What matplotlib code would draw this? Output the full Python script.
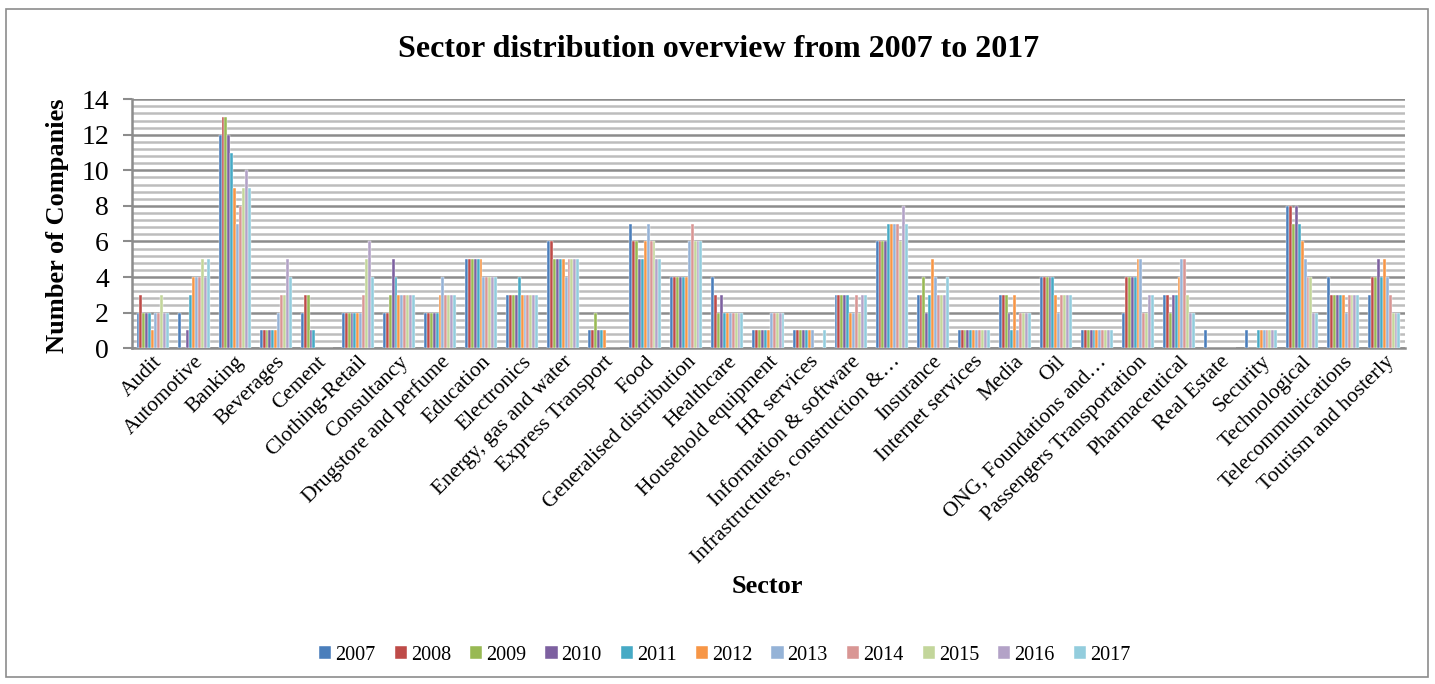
import matplotlib.pyplot as plt
import numpy as np
from matplotlib.patches import Rectangle
from matplotlib.ticker import MultipleLocator

plt.rcParams['font.family'] = ['Liberation Serif', 'DejaVu Serif']

sectors = ['Audit', 'Automotive', 'Banking', 'Beverages', 'Cement', 'Clothing-Retail',
           'Consultancy', 'Drugstore and perfume', 'Education', 'Electronics',
           'Energy, gas and water', 'Express Transport', 'Food', 'Generalised distribution',
           'Healthcare', 'Household equipment', 'HR services', 'Information & software',
           'Infrastructures, construction &\u2026', 'Insurance', 'Internet services', 'Media',
           'Oil', 'ONG, Foundations and\u2026', 'Passengers Transportation', 'Pharmaceutical',
           'Real Estate', 'Security', 'Technological', 'Telecommunications',
           'Tourism and hosterly']

years = ['2007', '2008', '2009', '2010', '2011', '2012', '2013', '2014', '2015', '2016', '2017']

# one row per sector, one column per year
counts = [
    [2, 3, 2, 2, 2, 1, 2, 2, 3, 2, 2],     # Audit
    [2, 0, 0, 1, 3, 4, 4, 4, 5, 4, 5],     # Automotive
    [12, 13, 13, 12, 11, 9, 7, 8, 9, 10, 9],  # Banking
    [1, 1, 1, 1, 1, 1, 2, 3, 3, 5, 4],     # Beverages
    [2, 3, 3, 1, 1, 0, 0, 0, 0, 0, 0],     # Cement
    [2, 2, 2, 2, 2, 2, 2, 3, 5, 6, 4],     # Clothing-Retail
    [2, 2, 3, 5, 4, 3, 3, 3, 3, 3, 3],     # Consultancy
    [2, 2, 2, 2, 2, 3, 4, 3, 3, 3, 3],     # Drugstore and perfume
    [5, 5, 5, 5, 5, 5, 4, 4, 4, 4, 4],     # Education
    [3, 3, 3, 3, 4, 3, 3, 3, 3, 3, 3],     # Electronics
    [6, 6, 5, 5, 5, 5, 4, 5, 5, 5, 5],     # Energy, gas and water
    [1, 1, 2, 1, 1, 1, 0, 0, 0, 0, 0],     # Express Transport
    [7, 6, 6, 5, 5, 6, 7, 6, 6, 5, 5],     # Food
    [4, 4, 4, 4, 4, 4, 6, 7, 6, 6, 6],     # Generalised distribution
    [4, 3, 2, 3, 2, 2, 2, 2, 2, 2, 2],     # Healthcare
    [1, 1, 1, 1, 1, 1, 2, 2, 2, 2, 2],     # Household equipment
    [1, 1, 1, 1, 1, 1, 1, 0, 0, 0, 1],     # HR services
    [3, 3, 3, 3, 3, 2, 2, 3, 2, 3, 3],     # Information & software
    [6, 6, 6, 6, 7, 7, 7, 7, 6, 8, 7],     # Infrastructures
    [3, 3, 4, 2, 3, 5, 4, 3, 3, 3, 4],     # Insurance
    [1, 1, 1, 1, 1, 1, 1, 1, 1, 1, 1],     # Internet services
    [3, 3, 3, 2, 1, 3, 1, 2, 2, 2, 2],     # Media
    [4, 4, 4, 4, 4, 3, 2, 3, 3, 3, 3],     # Oil
    [1, 1, 1, 1, 1, 1, 1, 1, 1, 1, 1],     # ONG
    [2, 4, 4, 4, 4, 5, 5, 2, 2, 3, 3],     # Passengers Transportation
    [3, 3, 2, 3, 3, 4, 5, 5, 3, 2, 2],     # Pharmaceutical
    [1, 0, 0, 0, 0, 0, 0, 0, 0, 0, 0],     # Real Estate
    [1, 0, 0, 0, 1, 1, 1, 1, 1, 1, 1],     # Security
    [8, 8, 7, 8, 7, 6, 5, 4, 4, 2, 2],     # Technological
    [4, 3, 3, 3, 3, 3, 2, 3, 3, 3, 3],     # Telecommunications
    [3, 4, 4, 5, 4, 5, 4, 3, 2, 2, 2],     # Tourism and hosterly
]

colors = ['#4A7EBB', '#BE4B48', '#98B954', '#7D60A0', '#46AAC5', '#F79646',
          '#95B3D7', '#D99694', '#C3D69B', '#B3A2C7', '#93CDDD']

data = np.array(counts)
x = np.arange(len(sectors))
group_w = 0.78
bw = group_w / len(years)

fig = plt.figure(figsize=(14.35, 6.84), dpi=100)
ax = fig.add_axes([0.092, 0.491, 0.887, 0.364])

for i, yr in enumerate(years):
    ax.bar(x - group_w / 2 + bw * (i + 0.5), data[:, i], width=bw,
           color=colors[i], edgecolor='white', linewidth=0.3, label=yr, zorder=3)

ax.set_xlim(-0.5, len(sectors) - 0.5)
ax.set_ylim(0, 14)
ax.yaxis.set_major_locator(MultipleLocator(2))
ax.yaxis.set_minor_locator(MultipleLocator(0.4))
ax.grid(axis='y', which='major', color='#8C8C8C', linewidth=1.8, zorder=0)
ax.grid(axis='y', which='minor', color='#BDBDBD', linewidth=1.8, zorder=0)
ax.tick_params(axis='y', which='minor', length=0)
ax.tick_params(axis='y', which='major', labelsize=20, length=6.5, width=1.5,
               color='#8C8C8C', pad=10)
ax.tick_params(axis='x', length=0, pad=3)
ax.set_xticks(x)
ax.set_xticklabels(sectors, rotation=45, ha='right', rotation_mode='anchor', fontsize=15.5)

for side in ['top', 'right']:
    ax.spines[side].set_visible(False)
ax.spines['left'].set_color('#8C8C8C')
ax.spines['left'].set_linewidth(1.8)
ax.spines['bottom'].set_color('#8C8C8C')
ax.spines['bottom'].set_linewidth(1.8)

fig.text(0.040, 0.670, 'Number of Companies', rotation=90, ha='center', va='center',
         fontsize=19, fontweight='bold')
fig.text(0.501, 0.928, 'Sector distribution overview from 2007 to 2017',
         ha='center', va='center', fontsize=23, fontweight='bold')
fig.text(0.5345, 0.142, 'Sector', ha='center', va='center', fontsize=19, fontweight='bold')

fig.legend(loc='center', bbox_to_anchor=(0.505, 0.042), ncol=11, frameon=False,
           fontsize=14.5, handlelength=0.6, handleheight=0.6, handletextpad=0.2,
           columnspacing=0.95)

fig.patches.append(Rectangle((0.0042, 0.0102), 0.991, 0.977, transform=fig.transFigure,
                             fill=False, edgecolor='#8C8C8C', linewidth=1.2))

fig.savefig('out.png', dpi=100)
